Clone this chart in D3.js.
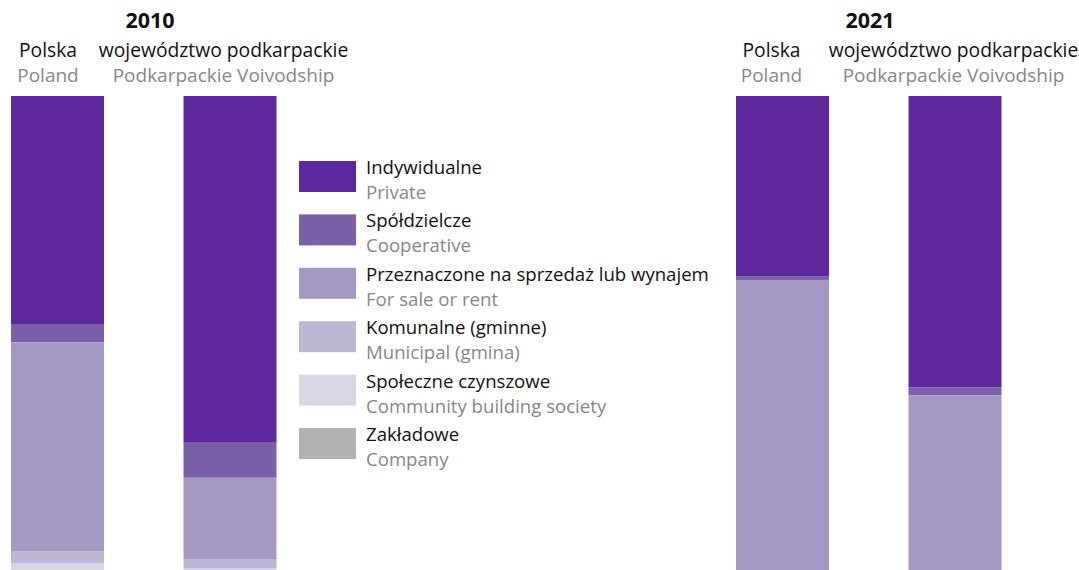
<!DOCTYPE html>
<html>
<head>
<meta charset="utf-8">
<script src="https://cdn.jsdelivr.net/npm/d3@7"></script>
<style>
  html, body { margin: 0; padding: 0; background: #ffffff; }
  svg { display: block; font-family: "Open Sans", "Noto Sans", sans-serif; }
</style>
</head>
<body>
<svg id="chart" width="1079" height="570"></svg>
<script>
// Dwellings completed by form of construction, share of total (%)
const years = ["2010", "2021"];
const areas = ["Polska", "podkarpackie"];
const areaLabelsPl = ["Polska", "województwo podkarpackie"];
const areaLabelsEn = ["Poland", "Podkarpackie Voivodship"];

const categoriesPl = ["Indywidualne", "Spółdzielcze", "Przeznaczone na sprzedaż lub wynajem",
  "Komunalne (gminne)", "Społeczne czynszowe", "Zakładowe"];
const categoriesEn = ["Private", "Cooperative", "For sale or rent",
  "Municipal (gmina)", "Community building society", "Company"];
const colors = ["#5e279e", "#7b5fa9", "#a598c3", "#bdb7d3", "#d9d6e6", "#b2b2b2"];

// shares in category order, per year and area
const polska2010 = [47.6, 3.8, 43.6, 2.5, 1.9, 0.6];
const podkarpackie2010 = [72.4, 7.3, 17.1, 1.9, 1.0, 0.3];
const polska2021 = [37.6, 0.8, 60.6, 0.6, 0.3, 0.1];
const podkarpackie2021 = [60.8, 1.7, 37.0, 0.3, 0.2, 0.0];

const series = [
  { year: "2010", area: "Polska", values: polska2010 },
  { year: "2010", area: "podkarpackie", values: podkarpackie2010 },
  { year: "2021", area: "Polska", values: polska2021 },
  { year: "2021", area: "podkarpackie", values: podkarpackie2021 }
];

const svg = d3.select("#chart");

// year groups, then the two areas within each group
const xYear = d3.scaleBand().domain(years).range([11, 1461]).paddingInner(0);
const xArea = d3.scaleBand().domain(areas).range([0, 265.5]).paddingInner(0.461).paddingOuter(0);
const y = d3.scaleLinear().domain([0, 100]).range([96, 575]);

// stacked bars, first category at the top
const stack = d3.stack().keys(d3.range(categoriesPl.length))
  .value((d, k) => d.values[k]);
const layers = stack(series);

svg.append("g").selectAll("g")
  .data(layers)
  .join("g")
  .attr("fill", d => colors[d.key])
  .selectAll("rect")
  .data(d => d)
  .join("rect")
  .attr("x", d => xYear(d.data.year) + xArea(d.data.area))
  .attr("width", xArea.bandwidth())
  .attr("y", d => y(d[0]))
  .attr("height", d => y(d[1]) - y(d[0]));

// column headings, nudged off the bar centres
const headAnchor = {
  "2010": { "Polska": -9.5, "podkarpackie": -6.5 },
  "2021": { "Polska": -11, "podkarpackie": -1.5 }
};
const head = svg.append("g");
years.forEach(yr => {
  head.append("text")
    .attr("x", xYear(yr) + (yr === "2010" ? 139 : 134))
    .attr("y", 28)
    .attr("text-anchor", "middle")
    .attr("font-size", 21.5)
    .attr("font-weight", 700)
    .attr("fill", "#111")
    .text(yr);
  areas.forEach((a, i) => {
    const cx = xYear(yr) + xArea(a) + xArea.bandwidth() / 2 + headAnchor[yr][a];
    head.append("text")
      .attr("x", cx).attr("y", 57)
      .attr("text-anchor", "middle")
      .attr("font-size", 19.3)
      .attr("fill", "#111")
      .text(areaLabelsPl[i]);
    head.append("text")
      .attr("x", cx).attr("y", 82)
      .attr("text-anchor", "middle")
      .attr("font-size", 19)
      .attr("fill", "#878787")
      .text(areaLabelsEn[i]);
  });
});

// legend
const legendY = d3.scalePoint().domain(d3.range(categoriesPl.length)).range([161, 428]);
const legend = svg.append("g").selectAll("g")
  .data(d3.range(categoriesPl.length))
  .join("g")
  .attr("transform", i => `translate(299,${legendY(i)})`);

legend.append("rect")
  .attr("width", 57).attr("height", 31)
  .attr("fill", i => colors[i]);
legend.append("text")
  .attr("x", 67).attr("y", 13)
  .attr("font-size", 18.6)
  .attr("fill", "#111")
  .text(i => categoriesPl[i]);
legend.append("text")
  .attr("x", 67).attr("y", 38)
  .attr("font-size", 18.6)
  .attr("fill", "#878787")
  .text(i => categoriesEn[i]);
</script>
</body>
</html>
